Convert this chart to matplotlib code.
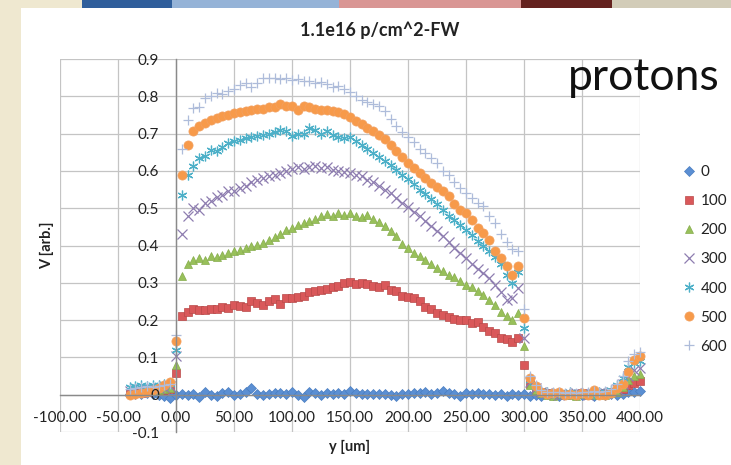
import matplotlib
matplotlib.use("Agg")
import matplotlib.pyplot as plt
from matplotlib.patches import Rectangle
from matplotlib.ticker import FuncFormatter, MultipleLocator

plt.rcParams['font.family'] = ['Lato', 'DejaVu Sans']

# ---------------- data ----------------
x_um = list(range(-40, 405, 5))  # sampling positions (um)

series_names = ['0', '100', '200', '300', '400', '500', '600']

v0 = ([0.002, 0.003, 0.001, 0.004, 0.002, 0.000, -0.004, -0.008] +
      [0.000, 0.003, -0.002, 0.002, -0.006, 0.008, 0.000, -0.004, 0.004, 0.006,
       -0.002, 0.003, 0.006, 0.018, 0.002, -0.002, 0.002, 0.005, 0.004, 0.002,
       0.006, 0.000, -0.006, 0.008, 0.004, 0.000, 0.005, 0.002, 0.004, 0.003,
       0.009, 0.004, 0.002, 0.003, 0.001, 0.003, 0.002, 0.000, -0.003, 0.003,
       0.002, 0.005, 0.004, 0.006, 0.003, 0.004, 0.010, 0.004, 0.002, -0.003,
       0.005, 0.002, 0.004, 0.001, 0.003, -0.001, 0.001, -0.003, 0.002, -0.001,
       0.003] +
      [-0.004, 0.000, -0.003, 0.002, 0.000, -0.004, 0.001, 0.003, -0.002, 0.000,
       0.002, -0.003, 0.001, 0.000, 0.002, -0.002, 0.003, 0.006, 0.008, 0.010])

v100 = ([0.004, 0.006, 0.005, 0.008, 0.009, 0.010, 0.012, 0.015] +
        [0.058,
         0.210, 0.223, 0.229, 0.227, 0.226, 0.229, 0.229, 0.234, 0.232,
         0.241, 0.238, 0.234, 0.250, 0.245, 0.241, 0.250, 0.257, 0.244, 0.259,
         0.259, 0.262, 0.265, 0.274, 0.277, 0.280, 0.283, 0.289, 0.291, 0.300,
         0.301, 0.298, 0.300, 0.297, 0.291, 0.289, 0.295, 0.280, 0.277, 0.265,
         0.262, 0.259, 0.250, 0.236, 0.229, 0.219, 0.214, 0.208, 0.203, 0.201,
         0.200, 0.192, 0.195, 0.182, 0.172, 0.165, 0.152, 0.148, 0.140, 0.152,
         0.080] +
        [0.030, 0.015, 0.008, 0.004, 0.002, 0.003, 0.000, 0.002, 0.001, 0.004,
         0.000, 0.003, 0.002, 0.004, 0.006, 0.010, 0.015, 0.027, 0.032, 0.036])

v200 = ([0.005, 0.007, 0.008, 0.010, 0.011, 0.012, 0.015, 0.018] +
        [0.080,
         0.319, 0.350, 0.360, 0.366, 0.362, 0.372, 0.368, 0.375, 0.380,
         0.384, 0.388, 0.393, 0.398, 0.402, 0.408, 0.415, 0.423, 0.432, 0.442,
         0.448, 0.455, 0.460, 0.466, 0.470, 0.478, 0.484, 0.479, 0.486, 0.481,
         0.486, 0.480, 0.476, 0.481, 0.472, 0.463, 0.452, 0.440, 0.425, 0.405,
         0.392, 0.381, 0.372, 0.360, 0.351, 0.341, 0.331, 0.322, 0.315, 0.306,
         0.295, 0.290, 0.277, 0.268, 0.255, 0.240, 0.223, 0.210, 0.200, 0.220,
         0.130] +
        [0.025, 0.012, 0.005, 0.000, -0.003, 0.002, -0.002, 0.000, -0.004, 0.001,
         -0.002, 0.000, 0.002, -0.001, 0.004, 0.008, 0.020, 0.040, 0.050, 0.055])

v300 = ([0.010, 0.012, 0.014, 0.015, 0.016, 0.018, 0.020, 0.022] +
        [0.103,
         0.430, 0.480, 0.500, 0.495, 0.515, 0.520, 0.530, 0.535, 0.545,
         0.545, 0.555, 0.560, 0.570, 0.575, 0.580, 0.585, 0.590, 0.595, 0.600,
         0.605, 0.610, 0.605, 0.610, 0.612, 0.607, 0.610, 0.602, 0.600, 0.598,
         0.595, 0.590, 0.585, 0.575, 0.570, 0.560, 0.550, 0.540, 0.527, 0.515,
         0.503, 0.490, 0.478, 0.465, 0.452, 0.440, 0.425, 0.410, 0.393, 0.380,
         0.366, 0.350, 0.338, 0.325, 0.312, 0.295, 0.275, 0.255, 0.260, 0.285,
         0.153] +
        [0.035, 0.018, 0.008, 0.004, 0.002, 0.000, 0.003, 0.001, 0.004, 0.002,
         0.000, 0.003, 0.005, 0.004, 0.008, 0.015, 0.030, 0.050, 0.065, 0.072])

v400 = ([0.020, 0.022, 0.025, 0.024, 0.027, 0.026, 0.028, 0.030] +
        [0.120,
         0.536, 0.590, 0.612, 0.635, 0.640, 0.657, 0.653, 0.665, 0.676,
         0.680, 0.683, 0.688, 0.690, 0.694, 0.697, 0.700, 0.703, 0.709, 0.706,
         0.694, 0.700, 0.700, 0.715, 0.710, 0.700, 0.706, 0.697, 0.692, 0.688,
         0.690, 0.680, 0.670, 0.658, 0.648, 0.637, 0.627, 0.615, 0.603, 0.590,
         0.577, 0.565, 0.550, 0.537, 0.525, 0.510, 0.495, 0.480, 0.468, 0.455,
         0.442, 0.428, 0.413, 0.398, 0.385, 0.370, 0.350, 0.320, 0.300, 0.330,
         0.180] +
        [0.040, 0.020, 0.010, 0.006, 0.004, 0.005, 0.002, 0.006, 0.003, 0.005,
         0.004, 0.002, 0.006, 0.008, 0.012, 0.025, 0.045, 0.075, 0.085, 0.090])

v500 = ([0.000, 0.002, 0.005, 0.008, 0.012, 0.018, 0.025, 0.035] +
        [0.145,
         0.590, 0.670, 0.706, 0.720, 0.728, 0.737, 0.742, 0.746, 0.750,
         0.755, 0.757, 0.760, 0.763, 0.766, 0.767, 0.770, 0.770, 0.780, 0.775,
         0.773, 0.763, 0.773, 0.770, 0.766, 0.763, 0.763, 0.760, 0.757, 0.752,
         0.745, 0.735, 0.725, 0.716, 0.707, 0.696, 0.685, 0.670, 0.654, 0.636,
         0.620, 0.608, 0.594, 0.581, 0.568, 0.558, 0.545, 0.532, 0.510, 0.496,
         0.487, 0.469, 0.447, 0.434, 0.416, 0.386, 0.366, 0.344, 0.322, 0.345,
         0.206] +
        [0.045, 0.022, 0.008, 0.003, 0.005, 0.006, -0.002, 0.002, 0.000, 0.004,
         -0.002, 0.012, 0.000, -0.001, 0.004, 0.018, 0.030, 0.062, 0.094, 0.103])

v600 = ([0.015, 0.018, 0.020, 0.022, 0.021, 0.024, 0.026, 0.030] +
        [0.160,
         0.658, 0.737, 0.769, 0.770, 0.796, 0.800, 0.810, 0.805, 0.813,
         0.820, 0.830, 0.835, 0.826, 0.835, 0.850, 0.848, 0.850, 0.847, 0.849,
         0.845, 0.846, 0.840, 0.842, 0.835, 0.838, 0.832, 0.826, 0.828, 0.820,
         0.812, 0.800, 0.790, 0.785, 0.780, 0.773, 0.760, 0.740, 0.720, 0.705,
         0.690, 0.677, 0.660, 0.648, 0.635, 0.620, 0.600, 0.588, 0.570, 0.555,
         0.540, 0.527, 0.515, 0.505, 0.480, 0.460, 0.430, 0.410, 0.390, 0.385,
         0.230] +
        [0.050, 0.025, 0.012, 0.008, 0.006, 0.008, 0.005, 0.007, 0.004, 0.008,
         0.006, 0.010, 0.007, 0.009, 0.015, 0.030, 0.050, 0.090, 0.110, 0.115])

all_values = [v0, v100, v200, v300, v400, v500, v600]

title = '1.1e16 p/cm^2-FW'
x_label = 'y [um]'
y_label = 'V [arb.]'
annotation = 'protons'

# ---------------- styling ----------------
styles = [
    dict(marker='D', ms=5.0, mfc='#5B8FD3', mec='#4A7EC0', mew=0.5),
    dict(marker='s', ms=5.8, mfc='#D9585A', mec='#B94A4A', mew=0.5),
    dict(marker='^', ms=6.2, mfc='#98C05A', mec='#86AC4C', mew=0.5),
    dict(marker='x', ms=6.5, mfc='none', mec='#8E7DB0', mew=0.9),
    dict(marker=(6, 2, 0), ms=7.0, mfc='none', mec='#4DB0C8', mew=0.9),
    dict(marker='o', ms=6.6, mfc='#F79A4A', mec='#F3A060', mew=0.5),
    dict(marker='+', ms=7.5, mfc='none', mec='#AEBCDA', mew=0.9),
]

W, H = 731, 465
fig = plt.figure(figsize=(W / 100, H / 100), dpi=100)
fig.patch.set_facecolor('#EFE8D0')

# slide card and header strip
fig.add_artist(Rectangle((21 / W, 0), 1 - 21 / W, 1 - 8 / H, transform=fig.transFigure,
                         facecolor='white', edgecolor='none', zorder=0))
strip = [(82, 172, '#2F5E9B'), (172, 339, '#95B3D7'), (339, 521, '#D99694'),
         (521, 612, '#64221F'), (612, 731, '#D2CCB8')]
for x0, x1, c in strip:
    fig.add_artist(Rectangle((x0 / W, 1 - 8 / H), (x1 - x0) / W, 8 / H,
                             transform=fig.transFigure, facecolor=c, edgecolor='none', zorder=1))

rect = [60 / W, 1 - 432 / H, 580 / W, 373 / H]

# main axes: gridlines and data
ax = fig.add_axes(rect)
ax.set_facecolor('none')

handles = []
for name, vals, st in zip(series_names, all_values, styles):
    h, = ax.plot(x_um, vals, linestyle='none', label=name, zorder=3, clip_on=False, **st)
    handles.append(h)

ax.set_xlim(-100, 400)
ax.set_ylim(-0.1, 0.9)
ax.xaxis.set_major_locator(MultipleLocator(50))
ax.yaxis.set_major_locator(MultipleLocator(0.1))
ax.grid(True, color='#C4C4C4', linewidth=0.9, zorder=0)
ax.set_axisbelow(True)
ax.tick_params(axis='both', length=0, labelbottom=False, labelleft=False)
for s in ax.spines.values():
    s.set_visible(False)

# overlay axes: axis lines and tick labels drawn above the markers
ov = fig.add_axes(rect, sharex=ax, sharey=ax)
ov.patch.set_visible(False)
ov.xaxis.set_major_formatter(FuncFormatter(lambda v, p: f'{v:.2f}'))


def yfmt(v, p):
    r = round(v, 1)
    if abs(r) < 1e-9:
        return '0'
    return f'{r:g}'


ov.yaxis.set_major_formatter(FuncFormatter(yfmt))
for s in ['top', 'right']:
    ov.spines[s].set_visible(False)
ov.spines['left'].set_position(('data', 0))
ov.spines['bottom'].set_position(('data', 0))
for s in ['left', 'bottom']:
    ov.spines[s].set_color('#8A8A8A')
    ov.spines[s].set_linewidth(1.0)
ov.tick_params(axis='both', length=0, labelsize=11, colors='#222222')
ov.tick_params(axis='x', pad=12)
ov.tick_params(axis='y', pad=12)

fig.text(380 / W, 1 - 30 / H, title, ha='center', va='center',
         fontsize=13, fontweight='bold', color='#222222')
fig.text(350 / W, 1 - 447 / H, x_label, ha='center', va='center',
         fontsize=10.5, fontweight='bold', color='#222222')
fig.text(47 / W, 1 - 245 / H, y_label, ha='center', va='center', rotation=90,
         fontsize=10.5, fontweight='bold', color='#222222')
fig.text(568 / W, 1 - 90 / H, annotation, ha='left', va='baseline',
         fontsize=32, color='#111111')

leg = fig.legend(handles=handles, labels=series_names, loc='upper left',
                 bbox_to_anchor=(682 / W, 1 - 165 / H), frameon=False,
                 fontsize=11, handlelength=0.9, handletextpad=0.3,
                 labelspacing=0.99, borderpad=0, borderaxespad=0, numpoints=1)
for t in leg.get_texts():
    t.set_color('#222222')

fig.savefig('out.png', dpi=100, facecolor=fig.get_facecolor())
